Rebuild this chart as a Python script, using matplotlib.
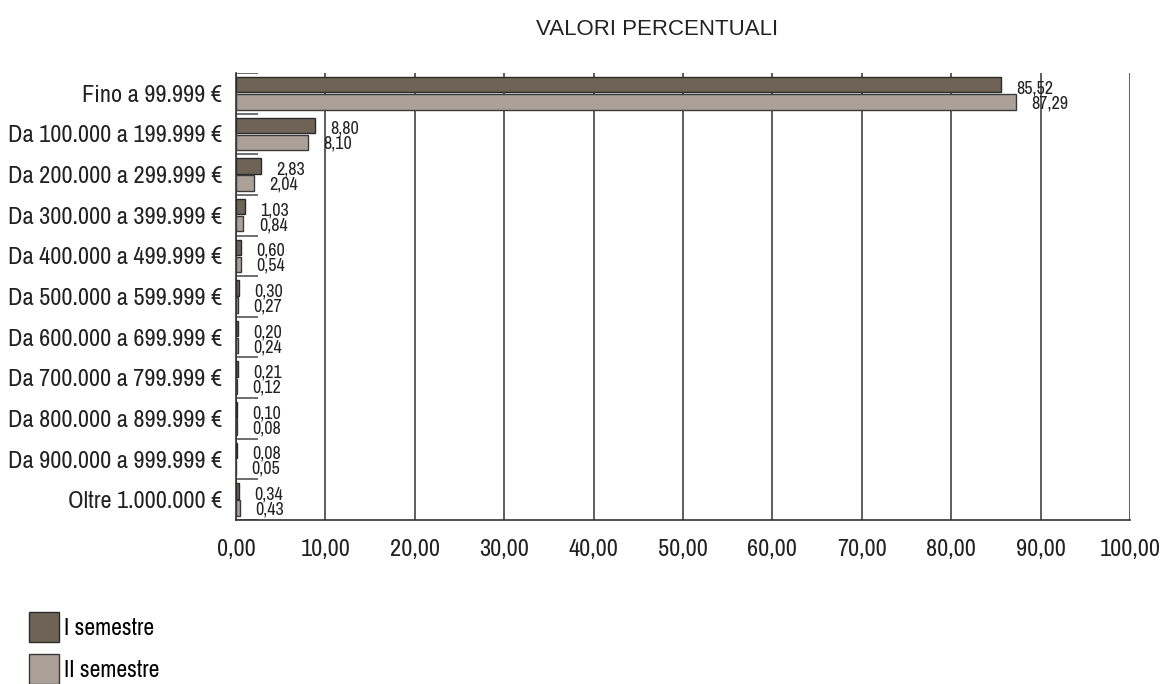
import matplotlib.pyplot as plt
from matplotlib import font_manager
import numpy as np

# fasce di importo
categories = ["Fino a 99.999 €", "Da 100.000 a 199.999 €", "Da 200.000 a 299.999 €",
              "Da 300.000 a 399.999 €", "Da 400.000 a 499.999 €", "Da 500.000 a 599.999 €",
              "Da 600.000 a 699.999 €", "Da 700.000 a 799.999 €", "Da 800.000 a 899.999 €",
              "Da 900.000 a 999.999 €", "Oltre 1.000.000 €"]
sem_1 = [85.52, 8.80, 2.83, 1.03, 0.60, 0.30, 0.20, 0.21, 0.10, 0.08, 0.34]
sem_2 = [87.29, 8.10, 2.04, 0.84, 0.54, 0.27, 0.24, 0.12, 0.08, 0.05, 0.43]
series_labels = ["I semestre", "II semestre"]
x_ticks = [0, 10, 20, 30, 40, 50, 60, 70, 80, 90, 100]

# cerca un font stretto installato
names = sorted({f.name for f in font_manager.fontManager.ttflist})
narrow_name = None
for n in names:
    if "Narrow" in n or "Condensed" in n:
        narrow_name = n
        break
dejavu_cond = any(f.name == "DejaVu Sans" and f.stretch == "condensed" for f in font_manager.fontManager.ttflist)
if narrow_name:
    narrow = dict(family=[narrow_name, "DejaVu Sans"])
elif dejavu_cond:
    narrow = dict(family=["DejaVu Sans"], stretch="condensed")
else:
    narrow = dict(family=["DejaVu Sans"])
title_family = ["Liberation Sans", "Arial", "DejaVu Sans"]

dark = "#6e6356"
light = "#aba198"


def fmt(v):
    return f"{v:.2f}".replace(".", ",")


fig = plt.figure(figsize=(11.63, 6.84), dpi=100)
ax = fig.add_axes([0.2029, 0.2398, 0.7687, 0.6535])

y = np.arange(len(categories))
b1 = ax.barh(y - 0.21, sem_1, height=0.38, color=dark, edgecolor="#2b2b2b", linewidth=1, label=series_labels[0], zorder=3)
b2 = ax.barh(y + 0.21, sem_2, height=0.38, color=light, edgecolor="#3a3a3a", linewidth=1, label=series_labels[1], zorder=3)

# etichette valori
for i in range(len(categories)):
    ax.annotate(fmt(sem_1[i]), (sem_1[i], y[i] - 0.21), xytext=(11, -2.5), textcoords="offset points",
                ha="left", va="center", fontsize=13, color="#222222", zorder=4, **narrow)
    ax.annotate(fmt(sem_2[i]), (sem_2[i], y[i] + 0.21), xytext=(11, -1), textcoords="offset points",
                ha="left", va="center", fontsize=13, color="#222222", zorder=4, **narrow)

# separatori corti tra le categorie
ax.hlines(np.arange(len(categories) + 1) - 0.5, 0, 2.5, colors="#555555", linewidth=1.2, zorder=2)

ax.set_xlim(0, 100)
ax.set_ylim(len(categories) - 0.5, -0.5)
ax.set_xticks(x_ticks)
ax.set_xticklabels([fmt(v) for v in x_ticks], fontsize=17.5, color="#222222", **narrow)
ax.set_yticks(y)
ax.set_yticklabels(categories, fontsize=17.5, color="#222222", **narrow)
ax.tick_params(axis="both", length=0)
ax.tick_params(axis="y", pad=10)
ax.tick_params(axis="x", pad=14)

ax.xaxis.grid(True, color="#333333", linewidth=1.1, zorder=1)
for s in ["top", "right"]:
    ax.spines[s].set_visible(False)
ax.spines["left"].set_color("#333333")
ax.spines["bottom"].set_color("#333333")
ax.spines["left"].set_linewidth(1.2)
ax.spines["bottom"].set_linewidth(1.2)

fig.text(0.565, 0.957, "VALORI PERCENTUALI", ha="center", va="center", fontsize=16,
         family=title_family, color="#222222")

legend_prop = font_manager.FontProperties(size=17, **narrow)
fig.legend(handles=[b1, b2], labels=series_labels, loc="upper left", bbox_to_anchor=(0.025, 0.105),
           frameon=False, prop=legend_prop, handlelength=1.27, handleheight=1.58,
           handletextpad=0.2, labelspacing=0.5, borderaxespad=0, borderpad=0)

fig.savefig("out.png", dpi=100)
